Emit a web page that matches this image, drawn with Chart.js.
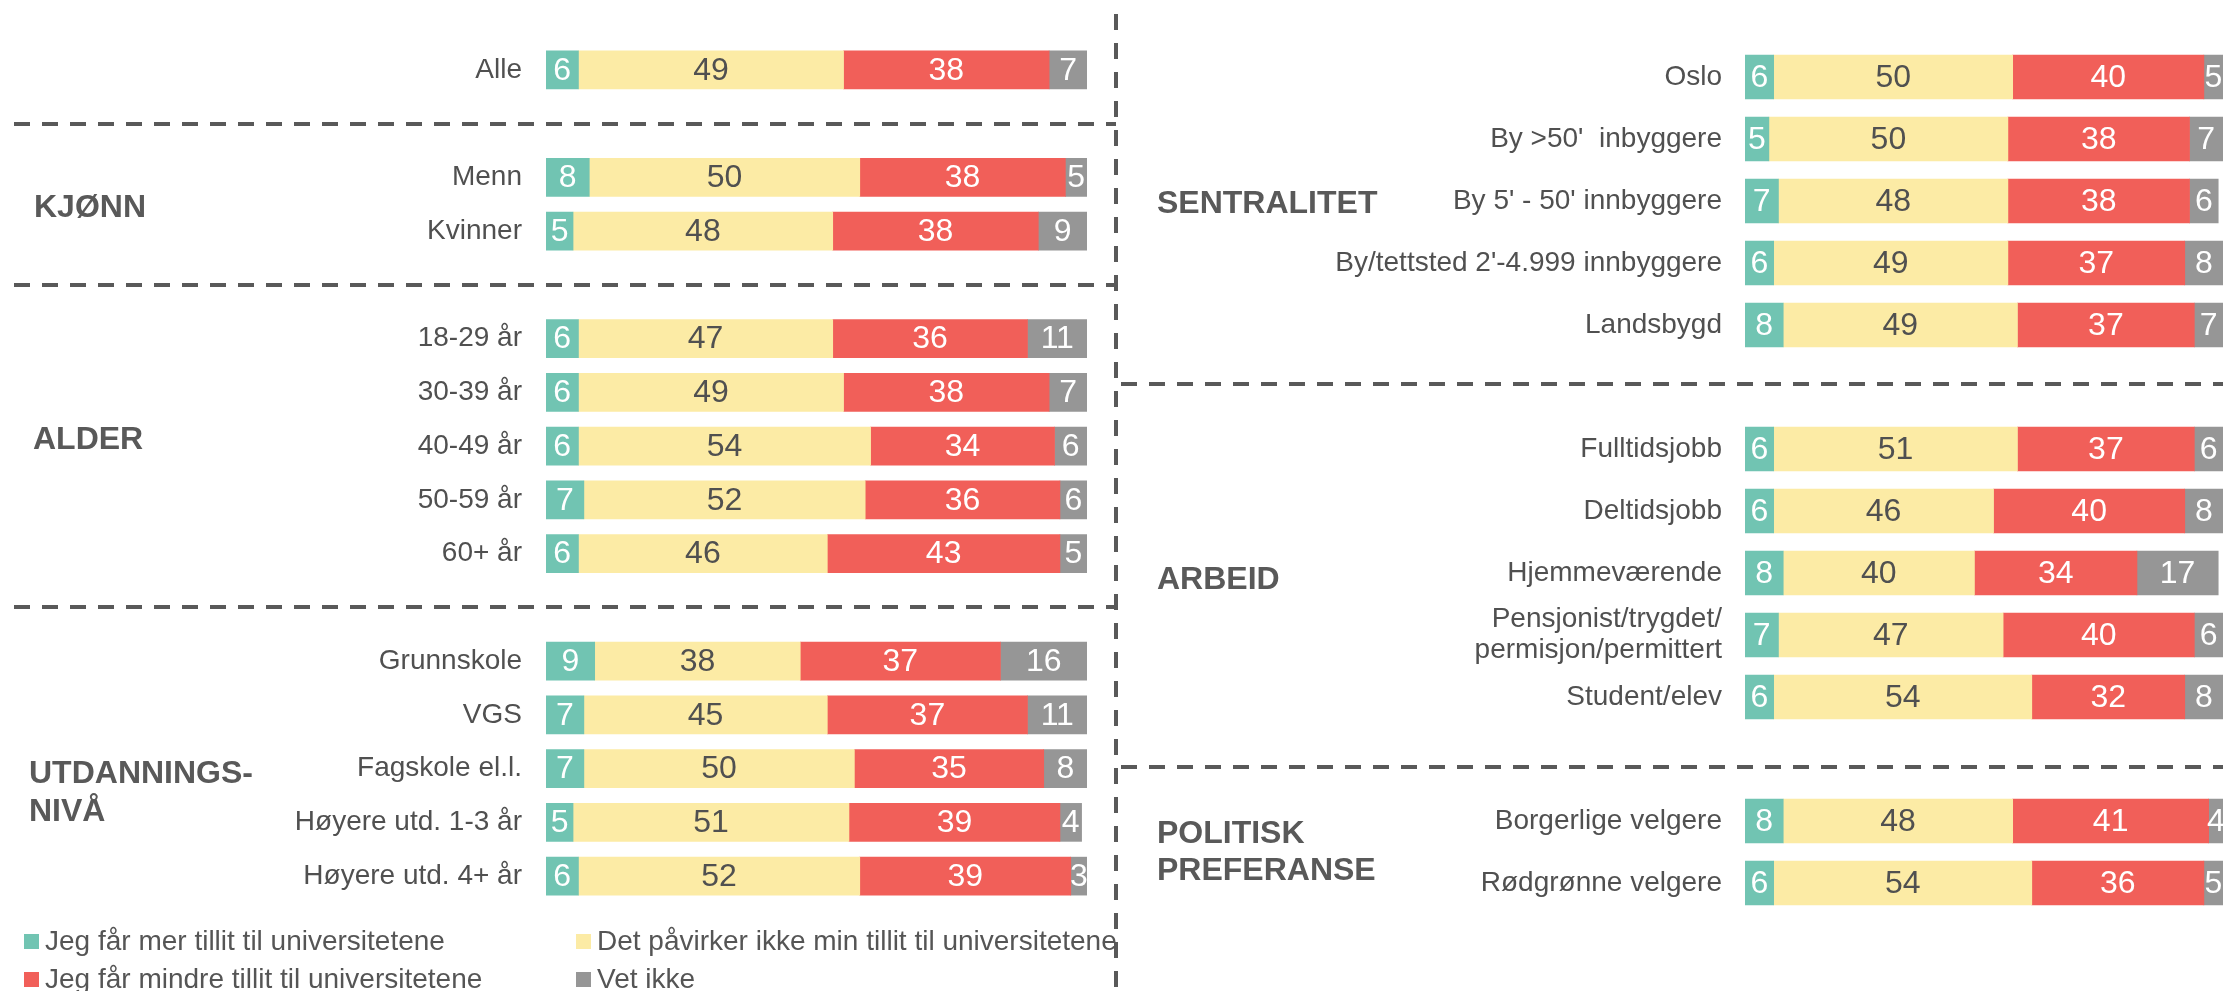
<!DOCTYPE html>
<html lang="no">
<head>
    <meta charset="UTF-8">
    <title>Tillit til universitetene</title>
    <script src="https://cdn.jsdelivr.net/npm/chart.js"></script>
    <style>
        body {
            margin: 0;
            width: 2223px;
            height: 991px;
            overflow: hidden;
            position: relative;
            background: #fff;
            font-family: 'Liberation Sans', Arial, sans-serif;
        }

        canvas {
            position: absolute;
            top: 0;
        }

        #left-chart { left: 0; }
        #right-chart { left: 1120px; }

        .group {
            position: absolute;
            font-size: 32px;
            font-weight: bold;
            line-height: 38px;
            color: #595959;
        }

        /* legend under the left panel, 2 x 2 */
        #legend {
            position: absolute;
            left: 24px;
            top: 922px;
            display: grid;
            grid-template-columns: 552px auto;
            font-size: 28px;
            line-height: 38px;
            color: #555555;
            white-space: nowrap;
        }

        .legend-item {
            display: flex;
            align-items: center;
        }

        .legend-box {
            width: 15px;
            height: 15px;
            margin-right: 6px;
        }
    </style>
</head>
<body>
    <canvas id="left-chart" width="1120" height="991"></canvas>
    <canvas id="right-chart" width="1103" height="991"></canvas>

    <div class="group" style="left:34px; top:187px;">KJØNN</div>
    <div class="group" style="left:33px; top:419px;">ALDER</div>
    <div class="group" style="left:29px; top:753px;">UTDANNINGS-<br>NIVÅ</div>
    <div class="group" style="left:1157px; top:183px;">SENTRALITET</div>
    <div class="group" style="left:1157px; top:559px;">ARBEID</div>
    <div class="group" style="left:1157px; top:814px; line-height:37px;">POLITISK<br>PREFERANSE</div>

    <div id="legend"></div>

    <script>
        // Series (same order as the stacks, left to right)
        const seriesNames = [
            'Jeg får mer tillit til universitetene',
            'Det påvirker ikke min tillit til universitetene',
            'Jeg får mindre tillit til universitetene',
            'Vet ikke'
        ];
        const seriesColors = ['#71C4B2', '#FCEBA5', '#F15F59', '#969696'];
        const valueColors = ['#ffffff', '#505050', '#ffffff', '#ffffff'];

        // Left panel ('' = gap row with a dashed separator)
        const leftCategories = ['Alle', '', 'Menn', 'Kvinner', '',
            '18-29 år', '30-39 år', '40-49 år', '50-59 år', '60+ år', '',
            'Grunnskole', 'VGS', 'Fagskole el.l.', 'Høyere utd. 1-3 år', 'Høyere utd. 4+ år'];
        const leftMer      = [6, null, 8, 5, null, 6, 6, 6, 7, 6, null, 9, 7, 7, 5, 6];
        const leftPavirker = [49, null, 50, 48, null, 47, 49, 54, 52, 46, null, 38, 45, 50, 51, 52];
        const leftMindre   = [38, null, 38, 38, null, 36, 38, 34, 36, 43, null, 37, 37, 35, 39, 39];
        const leftVetIkke  = [7, null, 5, 9, null, 11, 7, 6, 6, 5, null, 16, 11, 8, 4, 3];

        // Right panel
        const rightCategories = ['Oslo', "By >50'  inbyggere", "By 5' - 50' innbyggere",
            "By/tettsted 2'-4.999 innbyggere", 'Landsbygd', '',
            'Fulltidsjobb', 'Deltidsjobb', 'Hjemmeværende',
            ['Pensjonist/trygdet/', 'permisjon/permittert'], 'Student/elev', '',
            'Borgerlige velgere', 'Rødgrønne velgere'];
        const rightMer      = [6, 5, 7, 6, 8, null, 6, 6, 8, 7, 6, null, 8, 6];
        const rightPavirker = [50, 50, 48, 49, 49, null, 51, 46, 40, 47, 54, null, 48, 54];
        const rightMindre   = [40, 38, 38, 37, 37, null, 37, 40, 34, 40, 32, null, 41, 36];
        const rightVetIkke  = [5, 7, 6, 8, 7, null, 6, 8, 17, 6, 8, null, 4, 5];

        const fontFamily = "'Liberation Sans', Arial, sans-serif";
        Chart.defaults.font.family = fontFamily;

        // numbers inside the segments, centred on the visible part
        const valueLabels = {
            id: 'valueLabels',
            afterDatasetsDraw(chart) {
                const ctx = chart.ctx;
                const area = chart.chartArea;
                ctx.save();
                ctx.font = '32px ' + fontFamily;
                ctx.textAlign = 'center';
                ctx.textBaseline = 'middle';
                chart.data.datasets.forEach((ds, i) => {
                    chart.getDatasetMeta(i).data.forEach((bar, j) => {
                        const v = ds.data[j];
                        if (v == null) return;
                        const x0 = Math.max(Math.min(bar.base, bar.x), area.left);
                        const x1 = Math.min(Math.max(bar.base, bar.x), area.right);
                        ctx.fillStyle = valueColors[i];
                        ctx.fillText(v, (x0 + x1) / 2, bar.y + 1);
                    });
                });
                ctx.restore();
            }
        };

        // dashed lines on the gap rows, plus the vertical divider
        const separators = {
            id: 'separators',
            afterDraw(chart, args, opts) {
                const ctx = chart.ctx;
                const yScale = chart.scales.y;
                const shift = opts.shift || [];
                let k = 0;
                ctx.save();
                ctx.strokeStyle = '#595959';
                ctx.lineWidth = 4;
                ctx.setLineDash([16, 12]);
                chart.data.labels.forEach((lab, i) => {
                    if (lab !== '') return;
                    const py = Math.round(yScale.getPixelForValue(i)) + (shift[k++] || 0);
                    ctx.beginPath();
                    ctx.moveTo(opts.from, py);
                    ctx.lineTo(opts.to, py);
                    ctx.stroke();
                });
                if (opts.vertical != null) {
                    ctx.setLineDash([16, 13]);
                    ctx.beginPath();
                    ctx.moveTo(opts.vertical, 14);
                    ctx.lineTo(opts.vertical, chart.height);
                    ctx.stroke();
                }
                ctx.restore();
            }
        };

        function makeChart(id, labels, values, cfg) {
            return new Chart(document.getElementById(id), {
                type: 'bar',
                data: {
                    labels: labels,
                    datasets: values.map((d, i) => ({
                        label: seriesNames[i],
                        data: d,
                        backgroundColor: seriesColors[i],
                        barThickness: cfg.bar,
                        clip: 0
                    }))
                },
                options: {
                    indexAxis: 'y',
                    responsive: false,
                    animation: false,
                    devicePixelRatio: 1,
                    layout: { padding: cfg.padding },
                    plugins: {
                        legend: { display: false },
                        tooltip: { enabled: false },
                        separators: cfg.separators
                    },
                    scales: {
                        x: { stacked: true, min: 0, max: 100, display: false },
                        y: {
                            stacked: true,
                            grid: { display: false, drawTicks: false },
                            border: { display: false },
                            ticks: {
                                autoSkip: false,
                                padding: cfg.tickPad,
                                color: '#505050',
                                font: { size: 28, lineHeight: 1.12 }
                            },
                            afterFit: s => { s.width = cfg.axisWidth; }
                        }
                    }
                },
                plugins: [valueLabels, separators]
            });
        }

        makeChart('left-chart', leftCategories, [leftMer, leftPavirker, leftMindre, leftVetIkke], {
            bar: 38,
            padding: { top: 43, bottom: 88, left: 0, right: 33 },
            axisWidth: 546,
            tickPad: 24,
            separators: { from: 14, to: 1116, vertical: 1116 }
        });

        makeChart('right-chart', rightCategories, [rightMer, rightPavirker, rightMindre, rightVetIkke], {
            bar: 44,
            padding: { top: 46, bottom: 77, left: 0, right: 0 },
            axisWidth: 625,
            tickPad: 23,
            separators: { from: 1, to: 1103, shift: [-3, 8] }
        });

        // legend, built from the series
        const legend = document.getElementById('legend');
        seriesNames.forEach((name, i) => {
            const item = document.createElement('div');
            item.className = 'legend-item';
            const box = document.createElement('span');
            box.className = 'legend-box';
            box.style.background = seriesColors[i];
            item.appendChild(box);
            item.appendChild(document.createTextNode(name));
            legend.appendChild(item);
        });
    </script>
</body>
</html>
